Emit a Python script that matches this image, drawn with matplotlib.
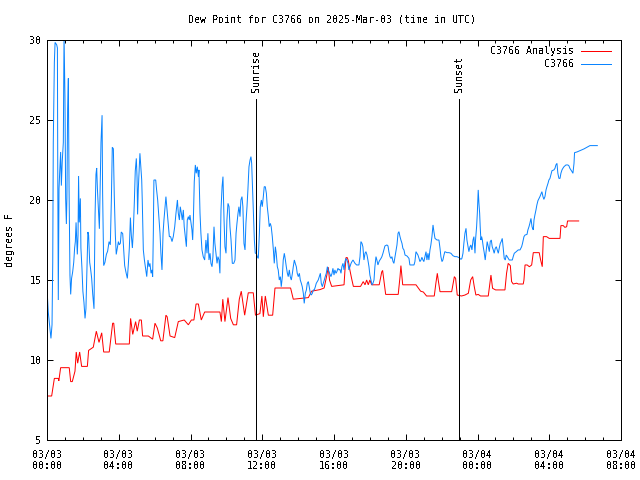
import matplotlib
matplotlib.use("Agg")
import matplotlib.pyplot as plt

plt.rcParams['font.family'] = ['DejaVu Sans Mono']
plt.rcParams['text.antialiased'] = False

title = "Dew Point for C3766 on 2025-Mar-03 (time in UTC)"
ylabel = "degrees F"
series_names = ["C3766 Analysis", "C3766"]
xtick_hours = [0, 4, 8, 12, 16, 20, 24, 28, 32]
xtick_labels = ["03/03\n00:00", "03/03\n04:00", "03/03\n08:00", "03/03\n12:00",
                "03/03\n16:00", "03/03\n20:00", "03/04\n00:00", "03/04\n04:00",
                "03/04\n08:00"]
ytick_vals = [5, 10, 15, 20, 25, 30]
sun_hours = [11.67, 22.98]
sun_labels = ["Sunrise", "Sunset"]

# hours since 2025-03-03 00:00 UTC
red_hours = [0.0, 0.03, 0.26, 0.41, 0.63, 0.66, 0.76, 1.24, 1.32, 1.41, 1.56, 1.63, 1.71, 1.82,
             1.93, 2.25, 2.32, 2.58, 2.75, 2.9, 3.05, 3.16, 3.47, 3.66, 3.72, 3.83, 4.59, 4.66,
             4.78, 4.94, 5.03, 5.15, 5.26, 5.33, 5.65, 5.89, 6.02, 6.15, 6.34, 6.46, 6.63, 6.7,
             6.86, 7.12, 7.32, 7.65, 7.88, 8.05, 8.19, 8.31, 8.44, 8.6, 8.79, 9.64, 9.72, 9.8,
             9.92, 10.09, 10.24, 10.39, 10.57, 10.72, 10.83, 11.02, 11.22, 11.5, 11.62, 11.87,
             11.98, 12.06, 12.17, 12.34, 12.58, 12.71, 13.58, 13.73, 14.57, 14.75, 15.22, 15.45,
             15.6, 15.68, 15.75, 15.87, 16.56, 16.61, 16.67, 16.74, 16.8, 16.89, 16.98, 17.08,
             17.48, 17.63, 17.73, 17.82, 17.91, 18.0, 18.1, 18.52, 18.66, 18.71, 18.78, 18.88,
             19.58, 19.68, 19.73, 19.83, 20.57, 20.7, 20.83, 20.98, 21.16, 21.59, 21.68, 21.76,
             21.81, 21.91, 22.56, 22.71, 22.78, 22.87, 23.11, 23.3, 23.49, 23.62, 23.73, 23.82,
             23.91, 24.04, 24.17, 24.6, 24.69, 24.75, 24.84, 25.01, 25.53, 25.62, 25.71, 25.83,
             25.9, 25.99, 26.18, 26.27, 26.55, 26.59, 26.65, 26.77, 26.89, 27.02, 27.11, 27.44,
             27.52, 27.61, 27.67, 27.85, 28.0, 28.6, 28.65, 28.78, 28.87, 28.97, 29.02, 29.64]
red_vals = [8.56, 7.75, 7.75, 8.85, 8.85, 8.7, 9.52, 9.52, 8.65, 8.65, 9.3, 10.5, 9.8, 10.5,
            9.6, 9.6, 10.6, 10.8, 11.8, 11.1, 11.7, 10.5, 10.5, 12.3, 12.3, 11.0, 11.0, 12.6,
            11.6, 12.4, 11.8, 12.5, 12.5, 11.5, 11.5, 11.3, 12.3, 12.0, 11.2, 11.2, 12.8, 12.7,
            11.5, 11.4, 12.4, 12.5, 12.2, 12.5, 12.5, 13.5, 13.5, 12.5, 13.0, 13.0, 12.4, 13.8,
            12.4, 13.9, 12.6, 12.2, 12.2, 13.8, 14.3, 12.8, 14.2, 14.2, 12.8, 12.9,
            14.0, 12.7, 14.0, 12.8, 12.8, 14.5, 14.5, 13.8, 13.9, 14.3, 14.4, 14.5,
            15.3, 15.8, 15.0, 14.6, 14.7, 15.6, 16.4, 16.4, 16.2, 15.6, 15.1, 14.6,
            14.6, 14.9, 14.7, 15.0, 14.7, 15.0, 14.7, 14.7, 15.5, 15.6, 15.0, 14.1,
            14.1, 15.2, 15.9, 14.7, 14.7, 14.5, 14.3, 14.25, 14.0, 14.0, 14.8, 15.42,
            15.0, 14.27, 14.27, 15.21, 15.1, 14.06, 14.0, 14.06, 14.17, 15.0, 15.21, 14.58,
            14.06, 14.1, 14.0, 14.0, 14.79, 15.31, 14.48, 14.38, 14.38, 15.42, 16.04, 15.9,
            14.9, 14.75, 14.8, 14.75, 14.75, 15.0, 15.94, 15.94, 15.83, 15.94, 16.71, 16.71,
            16.25, 15.83, 17.71, 17.71, 17.6, 17.6, 18.4, 18.4, 18.29, 18.33, 18.69, 18.69]

blue_hours = [0.0, 0.07, 0.22, 0.28, 0.32, 0.35, 0.41, 0.45, 0.54, 0.58, 0.6, 0.63, 0.67, 0.71,
              0.76, 0.8, 0.85, 0.91, 0.95, 1.0, 1.04, 1.08, 1.11, 1.15, 1.19, 1.23, 1.28, 1.32,
              1.37, 1.43, 1.49, 1.54, 1.58, 1.62, 1.65, 1.69, 1.73, 1.76, 1.8, 1.86, 1.89, 1.95,
              2.0, 2.06, 2.12, 2.17, 2.23, 2.28, 2.32, 2.38, 2.43, 2.49, 2.55, 2.62, 2.68, 2.73,
              2.77, 2.81, 2.86, 2.92, 2.95, 3.01, 3.07, 3.1, 3.16, 3.23, 3.31, 3.38, 3.46, 3.53,
              3.59, 3.64, 3.7, 3.75, 3.81, 3.86, 3.92, 3.98, 4.03, 4.09, 4.14, 4.22, 4.27, 4.33,
              4.4, 4.48, 4.53, 4.59, 4.65, 4.7, 4.76, 4.81, 4.87, 4.92, 4.98, 5.02, 5.05, 5.09,
              5.14, 5.18, 5.28, 5.31, 5.37, 5.43, 5.48, 5.56, 5.63, 5.69, 5.74, 5.8, 5.85, 5.89,
              5.93, 5.96, 6.06, 6.11, 6.17, 6.22, 6.3, 6.35, 6.41, 6.47, 6.52, 6.58, 6.63, 6.69,
              6.74, 6.82, 6.89, 6.97, 7.04, 7.12, 7.19, 7.27, 7.32, 7.38, 7.43, 7.49, 7.54, 7.6,
              7.65, 7.71, 7.77, 7.82, 7.88, 7.93, 7.97, 8.03, 8.08, 8.12, 8.16, 8.21, 8.27, 8.32,
              8.38, 8.44, 8.47, 8.53, 8.58, 8.64, 8.71, 8.79, 8.86, 8.92, 8.97, 9.03, 9.09, 9.14,
              9.2, 9.25, 9.31, 9.36, 9.42, 9.48, 9.53, 9.59, 9.64, 9.7, 9.76, 9.81, 9.87, 9.92,
              9.98, 10.03, 10.09, 10.15, 10.2, 10.26, 10.33, 10.41, 10.48, 10.54, 10.59, 10.65,
              10.7, 10.76, 10.81, 10.87, 10.92, 10.98, 11.04, 11.09, 11.15, 11.2, 11.26, 11.32,
              11.37, 11.41, 11.45, 11.5, 11.56, 11.61, 11.67, 11.72, 11.78, 11.84, 11.89, 11.95,
              12.0, 12.06, 12.11, 12.17, 12.23, 12.28, 12.34, 12.39, 12.45, 12.5, 12.56, 12.62,
              12.67, 12.73, 12.78, 12.84, 12.89, 12.95, 13.01, 13.06, 13.12, 13.17, 13.23, 13.29,
              13.34, 13.4, 13.45, 13.51, 13.56, 13.62, 13.68, 13.73, 13.79, 13.84, 13.9, 13.95,
              14.01, 14.07, 14.12, 14.18, 14.23, 14.29, 14.34, 14.4, 14.46, 14.51, 14.57, 14.62,
              14.68, 14.73, 14.79, 14.85, 14.9, 14.96, 15.01, 15.07, 15.12, 15.18, 15.24, 15.29,
              15.35, 15.4, 15.46, 15.51, 15.57, 15.63, 15.68, 15.83, 15.89, 15.94, 16.0, 16.05,
              16.11, 16.16, 16.22, 16.28, 16.33, 16.39, 16.44, 16.5, 16.56, 16.61, 16.67, 16.72,
              16.78, 16.83, 16.89, 16.95, 17.0, 17.06, 17.11, 17.17, 17.26, 17.39, 17.45, 17.5,
              17.56, 17.61, 17.67, 17.73, 17.78, 17.84, 17.89, 17.95, 18.0, 18.06, 18.12, 18.17,
              18.23, 18.28, 18.34, 18.39, 18.45, 18.51, 18.56, 18.62, 18.67, 18.73, 18.78, 18.84,
              18.95, 19.01, 19.06, 19.12, 19.18, 19.23, 19.29, 19.34, 19.4, 19.45, 19.51, 19.57,
              19.62, 19.68, 19.73, 19.79, 19.84, 19.9, 19.96, 20.07, 20.18, 20.23, 20.46, 20.51,
              20.57, 20.62, 20.68, 20.74, 20.79, 20.85, 20.9, 20.96, 21.01, 21.07, 21.13, 21.18,
              21.24, 21.29, 21.35, 21.4, 21.46, 21.52, 21.57, 21.63, 21.74, 21.85, 21.91, 21.96,
              22.02, 22.07, 22.13, 22.18, 22.3, 22.41, 22.52, 22.63, 22.74, 22.85, 22.97, 23.08,
              23.13, 23.19, 23.24, 23.3, 23.36, 23.41, 23.47, 23.52, 23.58, 23.63, 23.69, 23.75,
              23.8, 23.86, 23.89, 23.95, 23.99, 24.04, 24.08, 24.12, 24.15, 24.19, 24.23, 24.27,
              24.32, 24.38, 24.43, 24.49, 24.54, 24.6, 24.66, 24.71, 24.77, 24.82, 24.88, 24.93,
              24.99, 25.05, 25.1, 25.16, 25.21, 25.27, 25.32, 25.38, 25.44, 25.49, 25.55, 25.6,
              25.66, 25.77, 25.94, 25.99, 26.05, 26.16, 26.27, 26.37, 26.46, 26.51, 26.59, 26.65,
              26.76, 26.81, 26.87, 26.92, 26.98, 27.04, 27.07, 27.11, 27.15, 27.2, 27.26, 27.31,
              27.37, 27.43, 27.48, 27.54, 27.59, 27.65, 27.7, 27.76, 27.82, 27.87, 27.93, 27.98,
              28.04, 28.09, 28.15, 28.26, 28.32, 28.37, 28.43, 28.48, 28.54, 28.6, 28.65, 28.71,
              28.76, 28.82, 28.93, 29.04, 29.1, 29.15, 29.21, 29.27, 29.32, 29.38, 29.41, 29.54,
              29.71, 29.93, 30.16, 30.27, 30.68]
blue_vals = [14.48, 13.0, 11.35, 12.2, 16.1, 23.6, 28.6, 29.85, 29.7, 29.5, 21.8, 13.75, 20.7, 21.8,
             23.0, 20.9, 22.4, 23.6, 30.3, 26.5, 20.1, 18.5, 20.1, 25.7, 27.6, 20.7, 15.3, 14.1,
             15.1, 15.5, 16.1, 17.0, 17.4, 18.6, 17.8, 16.6, 17.8, 21.5, 18.6, 20.1, 17.0, 15.7,
             14.3, 13.6, 12.6, 13.2, 15.7, 18.0, 17.8, 16.1, 15.7, 15.1, 14.1, 13.2, 19.1, 21.6,
             22.0, 20.7, 19.5, 18.2, 19.9, 23.6, 25.3, 20.5, 15.9, 16.1, 16.6, 16.8, 17.4, 17.2,
             20.1, 23.3, 23.2, 20.3, 17.8, 16.6, 17.0, 17.4, 17.2, 17.3, 18.0, 17.9, 17.0, 15.9,
             15.5, 15.1, 15.9, 17.0, 18.9, 17.8, 17.0, 18.0, 19.9, 21.8, 22.6, 21.4, 19.1, 20.7,
             22.0, 22.92, 21.25, 20.0, 16.88, 16.25, 15.83, 15.21, 16.25, 15.83, 16.04, 15.42, 15.63, 15.21,
             18.13, 21.25, 21.25, 20.63, 20.0, 19.17, 17.92, 16.67, 15.63, 17.92, 18.75, 19.58, 20.21, 19.38,
             18.75, 17.71, 17.71, 17.4, 17.71, 18.33, 19.17, 20.0, 19.17, 18.75, 19.58, 19.17, 18.75, 19.38,
             18.33, 17.71, 17.08, 18.75, 18.96, 18.75, 19.06, 18.54, 18.13, 17.5, 18.75, 21.15, 22.19, 21.67,
             22.08, 21.46, 21.88, 19.17, 17.92, 16.88, 16.46, 16.25, 17.5, 16.67, 17.92, 16.25, 16.67, 16.04,
             15.83, 16.46, 18.33, 17.29, 16.67, 16.04, 16.46, 16.25, 15.42, 19.38, 20.83, 21.46, 18.75, 17.08,
             16.67, 18.75, 19.79, 19.58, 18.33, 17.5, 16.04, 16.04, 16.25, 17.92, 18.54, 19.17,
             19.58, 18.96, 20.0, 20.21, 19.58, 17.29, 16.88, 18.54, 19.58, 20.63, 22.08, 22.5,
             22.71, 22.29, 21.04, 19.58, 17.5, 16.67, 16.67, 16.46, 16.35, 17.92, 19.58, 20.0,
             19.58, 20.21, 20.83, 20.83, 20.42, 19.58, 18.96, 18.33, 18.54, 18.33, 17.71, 16.88,
             16.04, 17.08, 16.67, 15.83, 15.63, 15.0, 15.21, 14.58, 15.21, 16.25, 16.67, 16.25,
             15.83, 15.42, 15.21, 15.63, 15.21, 15.0, 15.42, 15.83, 16.25, 16.04, 15.83, 15.42,
             15.21, 15.42, 15.0, 14.79, 14.58, 14.17, 13.54, 14.17, 14.38, 14.79, 14.9, 14.58,
             14.17, 14.06, 14.17, 14.38, 14.38, 14.58, 14.79, 14.9, 15.0, 15.21, 15.42, 14.79,
             14.58, 14.79, 15.0, 15.21, 15.42, 15.83, 15.63, 15.21, 15.42, 15.73, 15.31, 15.63,
             15.42, 15.52, 15.73, 15.63, 15.67, 15.42, 15.83, 16.04, 15.63, 16.15, 16.35, 16.25,
             16.04, 15.63, 15.83, 16.04, 16.15, 16.25, 16.15, 16.04, 15.94, 15.94, 16.46, 17.4,
             17.29, 17.08, 16.25, 16.67, 16.77, 16.56, 16.25, 15.83, 15.31, 15.0, 14.69, 14.79,
             15.0, 15.83, 16.46, 16.25, 15.94, 16.15, 16.25, 16.35, 16.46, 16.67, 16.88, 17.13,
             17.19, 17.13, 16.77, 16.46, 16.35, 16.46, 16.15, 16.04, 16.46, 16.77, 17.19, 17.92,
             18.02, 17.71, 17.5, 17.29, 16.98, 16.88, 16.56, 16.5, 16.35, 15.94, 15.94, 16.15,
             16.77, 16.67, 16.56, 16.35, 16.15, 16.25, 16.42, 16.25, 16.15, 16.46, 16.77, 16.25,
             16.67, 16.25, 16.88, 17.19, 17.71, 18.44, 18.02, 17.6, 17.5, 17.5, 16.98, 16.46,
             16.15, 16.25, 16.56, 16.77, 16.71, 16.71, 16.67, 16.52, 16.46, 16.46, 16.4, 16.29,
             16.35, 16.67, 17.29, 17.92, 18.23, 17.5, 17.08, 16.77, 17.08, 17.19, 16.88, 17.5,
             17.71, 16.67, 17.5, 18.33, 19.17, 20.63, 19.79, 19.17, 18.33, 17.5, 17.71, 17.5,
             17.08, 16.67, 16.25, 16.88, 17.4, 17.08, 16.77, 17.4, 17.5, 17.08, 16.88, 16.67,
             16.98, 17.08, 16.88, 16.67, 16.98, 17.29, 17.4, 17.6, 16.88, 16.35, 16.25, 16.56,
             16.46, 16.25, 16.25, 16.46, 16.67, 16.77, 16.88, 16.88, 17.08, 17.29, 17.71, 17.81,
             17.85, 18.13, 18.33, 18.54, 18.85, 18.33, 18.23, 18.13, 18.75, 19.06, 19.38, 19.69,
             19.96, 20.1, 20.21, 20.38, 20.52, 20.21, 20.04, 20.21, 20.63, 20.83, 21.04, 21.25,
             21.35, 21.56, 21.83, 21.88, 21.98, 22.19, 22.29, 21.67, 21.35, 21.35, 21.67, 21.88,
             21.98, 22.08, 22.19, 22.19, 22.13, 21.98, 21.88, 21.77, 21.67, 22.29, 22.96, 23.0,
             23.08, 23.19, 23.33, 23.4, 23.4]

LW = 0.72   # one pixel at 100 dpi

fig = plt.figure(figsize=(6.4, 4.8), dpi=100)
ax = fig.add_axes([47/640, 40/480, 574/640, 400/480])

red_line, = ax.plot(red_hours, red_vals, color='#ff0000', lw=LW, antialiased=True,
                    solid_joinstyle='miter', label=series_names[0])
blue_line, = ax.plot(blue_hours, blue_vals, color='#0a84ff', lw=LW, antialiased=True,
                     solid_joinstyle='miter', label=series_names[1])

for h, lab in zip(sun_hours, sun_labels):
    ax.plot([h, h], [5, 26.3], color='black', lw=LW, antialiased=False)
    ax.text(h, 26.75, lab, rotation=90, ha='center', va='bottom', fontsize=7.2)

ax.set_xlim(0, 32)
ax.set_ylim(5, 30)
ax.set_xticks(xtick_hours)
ax.set_xticklabels(xtick_labels, fontsize=7.2, linespacing=1.2)
ax.set_xticks(range(0, 33), minor=True)
ax.set_yticks(ytick_vals)
ax.set_yticklabels([str(v) for v in ytick_vals], fontsize=7.2)
ax.tick_params(which='both', direction='in', top=True, right=True, width=LW)
ax.tick_params(which='major', length=4.5)
ax.tick_params(which='minor', length=2.5)
ax.tick_params(axis='x', which='major', pad=7)
ax.tick_params(axis='y', which='major', pad=4)
for s in ax.spines.values():
    s.set_linewidth(LW)
    s.set_antialiased(False)

fig.text(332/640, 1 - 19/480, title, ha='center', va='center', fontsize=7.2)
fig.text(10/640, 0.5, ylabel, rotation=90, ha='center', va='center', fontsize=7.2)

leg = ax.legend(handles=[red_line, blue_line], loc='upper right', frameon=False,
                markerfirst=False, fontsize=7.2, handlelength=3.0, handletextpad=0.7,
                labelspacing=0.3, borderpad=0, borderaxespad=0,
                bbox_to_anchor=(611/640, 1 - 46/480), bbox_transform=fig.transFigure)
for ln in leg.get_lines():
    ln.set_linewidth(LW)
    ln.set_antialiased(False)

fig.savefig('out.png', dpi=100)
